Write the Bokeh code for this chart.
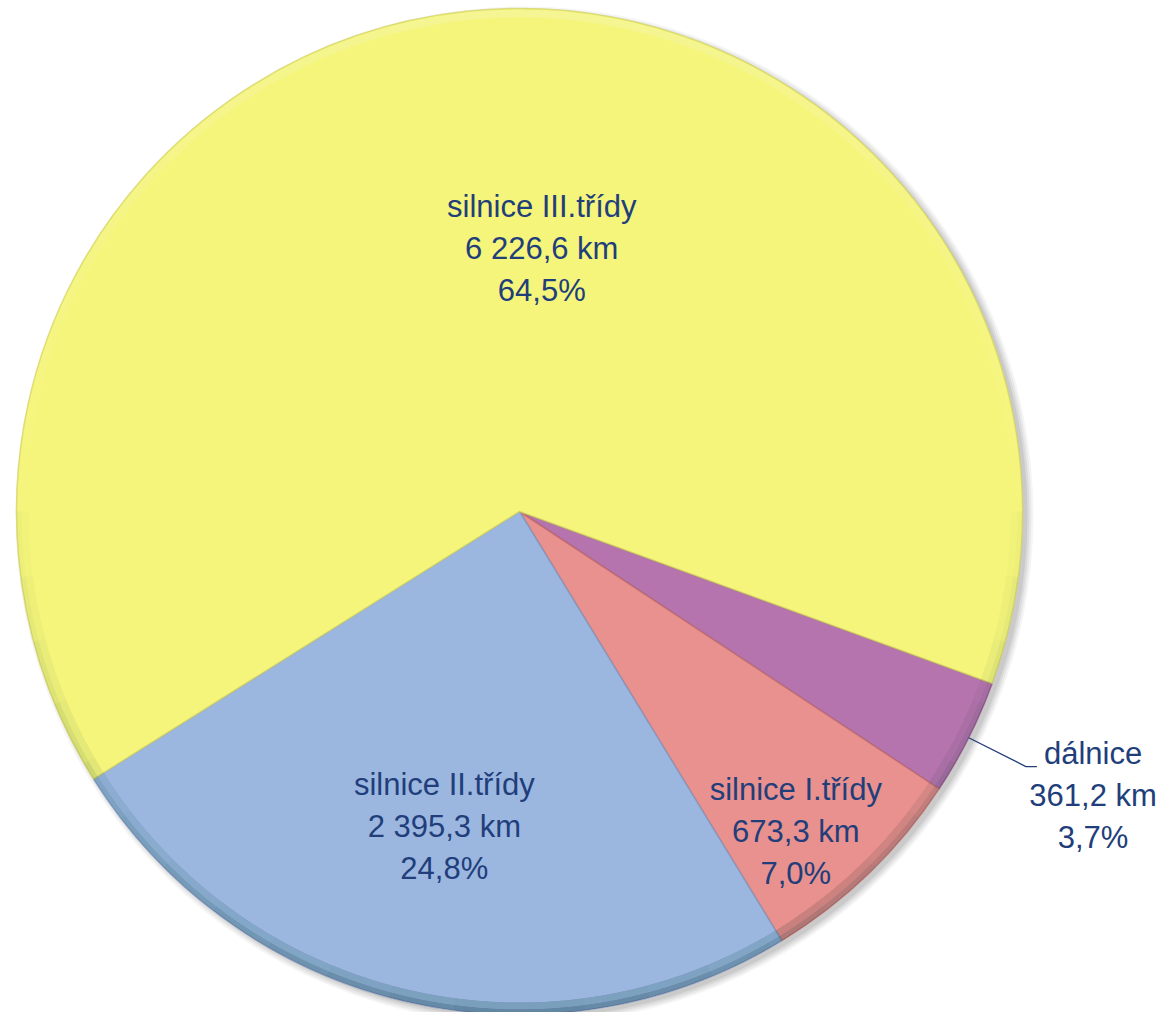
import numpy as np
from bokeh.plotting import figure
from bokeh.models import Range1d, ColumnDataSource
from bokeh.core.properties import value
from bokeh.embed import file_html
from bokeh.resources import INLINE

# ---- data ----
categories = ["dálnice", "silnice I.třídy", "silnice II.třídy", "silnice III.třídy"]
lengths_km = [361.2, 673.3, 2395.3, 6226.6]
length_labels = ["361,2 km", "673,3 km", "2 395,3 km", "6 226,6 km"]
percent_labels = ["3,7%", "7,0%", "24,8%", "64,5%"]

# ---- style / layout ----
colors = ["#B674AE", "#E8918E", "#9BB7E0", "#F5F57B"]
edge_colors = ["#8E4F86", "#C06A67", "#7A96C0", "#D2D260"]
text_color = "#213E7B"
FONT = "Liberation Sans"
FS = 31
LINE_PITCH = 42
W, H = 1160, 1012
CX, CY, R = 519, -511, 503          # pie centre / radius in plot pixels
START_DEG = -20.0                    # first slice starts here, goes clockwise
label_r = [640, 423, 324, 264]       # label distance from centre
label_nudge_deg = [0.4, -3.2, -0.2, -10.9]

p = figure(width=W, height=H, x_range=Range1d(0, W), y_range=Range1d(-H, 0),
           output_backend="svg", toolbar_location=None, min_border=0)
p.axis.visible = False
p.grid.visible = False
p.outline_line_color = None
p.background_fill_color = "white"
p.border_fill_color = "white"

vals = np.array(lengths_km)
frac = vals / vals.sum()
cum = np.concatenate([[0], np.cumsum(frac)])
start = np.deg2rad(START_DEG)
a_from = start - 2 * np.pi * cum[:-1]
a_to = start - 2 * np.pi * cum[1:]
mid = (a_from + a_to) / 2

# soft drop shadow (towards lower right)
for k, a in enumerate([0.04, 0.05, 0.06, 0.07]):
    p.circle(x=[CX + 5], y=[CY - 4], radius=R + 6 - 2 * k, fill_color="#000000",
             fill_alpha=a, line_color=None)

src = ColumnDataSource(dict(start=a_to, end=a_from, color=colors, edge=edge_colors))
p.wedge(x=CX, y=CY, radius=R, start_angle="start", end_angle="end",
        direction="anticlock", fill_color="color", line_color="edge",
        line_width=1.5, line_alpha=0.7, source=src)

# rim shading: layered arcs, darker towards the bottom, lighter at the top
N = 12
for j in range(N):
    th = (j / N) * (np.pi / 2)
    p.annular_wedge(x=CX, y=CY, inner_radius=R - 12, outer_radius=R,
                    start_angle=np.pi + th, end_angle=2 * np.pi - th,
                    fill_color="#1a2030", fill_alpha=0.014, line_color=None)
    p.annular_wedge(x=CX, y=CY, inner_radius=R - 5, outer_radius=R,
                    start_angle=np.pi + th, end_angle=2 * np.pi - th,
                    fill_color="#1a2030", fill_alpha=0.014, line_color=None)
    p.annular_wedge(x=CX, y=CY, inner_radius=R - 9, outer_radius=R - 1,
                    start_angle=th, end_angle=np.pi - th,
                    fill_color="#ffffff", fill_alpha=0.02, line_color=None)

# labels (three lines each)
lab_ang = mid + np.deg2rad(label_nudge_deg)
lx = CX + np.array(label_r) * np.cos(lab_ang)
ly = CY + np.array(label_r) * np.sin(lab_ang)
for lines, off in [(categories, LINE_PITCH), (length_labels, 0), (percent_labels, -LINE_PITCH)]:
    p.text(x=lx, y=ly + off, text=lines, text_align="center", text_baseline="middle",
           text_font=value(FONT), text_font_size=f"{FS}px", text_color=text_color)

# leader line for the small outside label
m0 = mid[0]
x1, y1 = CX + R * np.cos(m0), CY + R * np.sin(m0)
x2, y2 = CX + (R + 64) * np.cos(m0), CY + (R + 64) * np.sin(m0)
p.line(x=[x1, x2, x2 + 11], y=[y1, y2, y2], line_color=text_color, line_width=1.3)

open("out.html", "w").write(file_html(p, INLINE))
